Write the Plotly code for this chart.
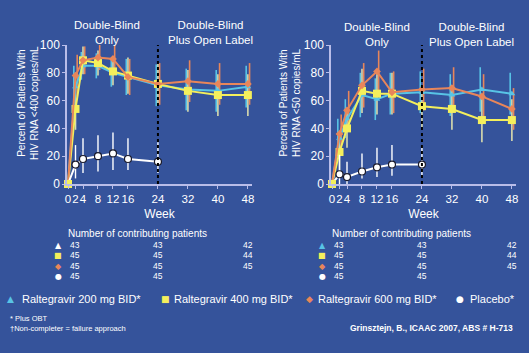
import plotly.graph_objects as go

weeks = [0, 2, 4, 8, 12, 16, 24, 32, 40, 48]
week_ticks = [0, 2, 4, 8, 12, 16, 24, 32, 40, 48]
pbo_weeks = [0, 2, 4, 8, 12, 16, 24]

# Left panel: HIV RNA <400 copies/mL
l_200 = [0, 70, 85, 85, 80, 77, 71, 68, 67, 70]
l_400 = [0, 54, 89, 87, 81, 78, 72, 67, 64, 64]
l_600 = [0, 78, 89, 91, 90, 77, 72, 74, 72, 72]
l_pbo = [0, 14, 18, 20, 22, 18, 16]
l_err = [0, 15, 10, 9, 10, 13, 15, 15, 15, 15]
l_pbo_up = [0, 14, 15, 15, 15, 15, 14]
l_pbo_dn = [0, 10, 10, 11, 12, 8, 8]

# Right panel: HIV RNA <50 copies/mL
r_200 = [0, 33, 47, 64, 61, 65, 66, 64, 68, 65]
r_400 = [0, 23, 40, 67, 65, 65, 56, 54, 46, 46]
r_600 = [0, 36, 53, 71, 81, 66, 68, 69, 63, 54]
r_pbo = [0, 7, 5, 9, 12, 14, 14]
r_err = [0, 14, 14, 16, 15, 15, 15, 15, 16, 15]
r_pbo_up = [0, 14, 11, 13, 14, 14, 14]
r_pbo_dn = [0, 7, 5, 5, 7, 8, 8]

table_cols = [0, 24, 48]
n_200 = [43, 43, 42]
n_400 = [45, 45, 44]
n_600 = [45, 45, 45]
n_pbo = [45, 45]

legend_labels = ["Raltegravir 200 mg BID*", "Raltegravir 400 mg BID*",
                 "Raltegravir 600 mg BID*", "Placebo*"]

BG = "#35539b"
CYAN = "#58c4e6"
YEL = "#f4ef5c"
ORG = "#e8865a"
AX = "#b9bde9"
FONT = "Liberation Sans, Arial, sans-serif"

fig = go.Figure()


def add_panel(xa, ya, s200, s400, s600, pbo, err, pup, pdn):
    off = 0.45
    specs = [(s200, CYAN, CYAN, "triangle-up", 6, -off),
             (s400, YEL, "#d9dcae", "square", 8, 0.0),
             (s600, ORG, ORG, "diamond", 6, off)]
    for vals, col, ecol, sym, size, dx in specs:
        fig.add_trace(go.Scatter(
            x=[w + dx for w in weeks[1:]], y=vals[1:], mode="markers",
            marker=dict(size=1, opacity=0),
            error_y=dict(type="data", array=err[1:], color=ecol, thickness=1.6, width=0),
            xaxis=xa, yaxis=ya, showlegend=False, hoverinfo="skip", cliponaxis=False))
    for vals, col, ecol, sym, size, dx in specs:
        fig.add_trace(go.Scatter(
            x=weeks, y=vals, mode="lines+markers",
            line=dict(color=col, width=2),
            marker=dict(symbol=sym, size=size, color=col),
            xaxis=xa, yaxis=ya, showlegend=False, cliponaxis=False))
    fig.add_trace(go.Scatter(
        x=pbo_weeks[1:], y=pbo[1:], mode="markers",
        marker=dict(size=1, opacity=0),
        error_y=dict(type="data", array=pup[1:], arrayminus=pdn[1:],
                     color="white", thickness=1.4, width=0),
        xaxis=xa, yaxis=ya, showlegend=False, hoverinfo="skip", cliponaxis=False))
    fig.add_trace(go.Scatter(
        x=pbo_weeks, y=pbo, mode="lines+markers",
        line=dict(color="white", width=2),
        marker=dict(symbol="circle", size=7, color="white",
                    line=dict(color="#1a1a2a", width=1.2)),
        xaxis=xa, yaxis=ya, showlegend=False, cliponaxis=False))
    fig.add_trace(go.Scatter(
        x=[weeks[0]], y=[s400[0]], mode="markers",
        marker=dict(symbol="square", size=8, color=YEL),
        xaxis=xa, yaxis=ya, showlegend=False, cliponaxis=False))


add_panel("x", "y", l_200, l_400, l_600, l_pbo, l_err, l_pbo_up, l_pbo_dn)
add_panel("x2", "y2", r_200, r_400, r_600, r_pbo, r_err, r_pbo_up, r_pbo_dn)

ydom = [1 - 184 / 353, 1 - 45 / 353]
xdom1 = [67 / 529, 252 / 529]
xdom2 = [331 / 529, 516 / 529]

xcommon = dict(range=[-0.27, 49.1], tickvals=week_ticks, ticktext=[str(w) for w in week_ticks],
               tickangle=0, automargin=False,
               showgrid=False, zeroline=False, showline=True, linecolor=AX, linewidth=1.5,
               ticks="outside", ticklen=3, tickcolor=AX,
               tickfont=dict(color="white", size=11.5, family=FONT),
               title=dict(text="Week", font=dict(color="white", size=12, family=FONT), standoff=6))
ycommon = dict(range=[0, 100], tickvals=[0, 20, 40, 60, 80, 100], automargin=False,
               showgrid=False, zeroline=False, showline=True, linecolor=AX, linewidth=1.5,
               ticks="outside", ticklen=3, tickcolor=AX,
               tickfont=dict(color="white", size=12, family=FONT))

fig.update_layout(
    width=529, height=353, margin=dict(l=0, r=0, t=0, b=0),
    paper_bgcolor=BG, plot_bgcolor=BG,
    font=dict(family=FONT, color="white"),
    xaxis=dict(domain=xdom1, anchor="y", **xcommon),
    yaxis=dict(domain=ydom, anchor="x", **ycommon),
    xaxis2=dict(domain=xdom2, anchor="y2", **xcommon),
    yaxis2=dict(domain=ydom, anchor="x2", **ycommon),
)

for xr, yr in [("x", "y"), ("x2", "y2")]:
    fig.add_shape(type="line", x0=24, x1=24, y0=0, y1=102, xref=xr, yref=yr,
                  line=dict(color="black", width=2, dash="dot"))

ann = []


def py(p):
    return 1 - p / 353


def a(text, xp, yp, size, color="white", xanchor="center", family=FONT, xref="paper", **kw):
    xv = xp / 529 if xref == "paper" else xp
    ann.append(dict(text=text, x=xv, y=py(yp), xref=xref, yref="paper", xanchor=xanchor,
                    yanchor="middle", showarrow=False,
                    font=dict(size=size, color=color, family=family), **kw))


for txt, xp, yp in [("Double-Blind<br>Only", 107, 32), ("Double-Blind<br>Plus Open Label", 210, 32),
                     ("Double-Blind<br>Only", 377, 35), ("Double-Blind<br>Plus Open Label", 471, 34)]:
    a(txt, xp, yp, 11.5)

for txt, xp in [("Percent of Patients With<br>HIV RNA <400 copies/mL", 28),
                ("Percent of Patients With<br>HIV RNA <50 copies/mL", 290)]:
    a(txt, xp, 103, 10, textangle=-90)

row_y = [245, 255.5, 266, 276]
rows = [n_200, n_400, n_600, n_pbo]
for panel, (xr, sym_x, tri_col) in enumerate([("x", 58, "white"), ("x2", 322, CYAN)]):
    start_x = 66 if panel == 0 else 330
    a("Number of contributing patients", start_x, 233, 10, xanchor="left")
    sym_cols = [("▲", tri_col), ("■", YEL), ("◆", ORG), ("●", "white")]
    for i, (vals, yy) in enumerate(zip(rows, row_y)):
        s, c = sym_cols[i]
        a(s, sym_x, yy, 8, color=c, family="DejaVu Sans")
        for j, v in enumerate(vals):
            a(str(v), table_cols[j], yy, 8.5, xref=xr,
              xanchor="left" if j == 0 else "center")

leg_x = [(10, 20), (165, 172), (309, 316), (460, 468)]
leg_syms = [("▲", CYAN), ("■", YEL), ("◆", ORG), ("●", "white")]
for (sx, tx), (s, c), lab in zip(leg_x, leg_syms, legend_labels):
    a(s, sx, 299, 9, color=c, family="DejaVu Sans")
    a(lab, tx, 299, 11, xanchor="left")

a("* Plus OBT", 8, 318, 7.5, xanchor="left")
a("†Non-completer = failure approach", 8, 328, 7.5, xanchor="left")
a("<b>Grinsztejn, B., ICAAC 2007, ABS # H-713</b>", 515, 328, 8.5, xanchor="right")

fig.update_layout(annotations=ann)
fig.write_html("out.html")
